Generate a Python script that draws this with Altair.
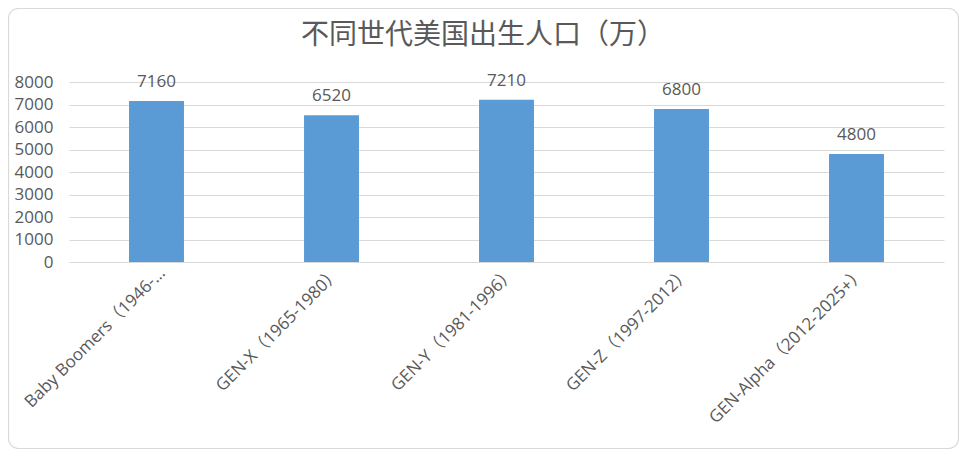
import altair as alt
import pandas as pd

TITLE = "不同世代美国出生人口（万）"
categories = [
    "Baby Boomers（1946-…",
    "GEN-X（1965-1980）",
    "GEN-Y（1981-1996）",
    "GEN-Z（1997-2012）",
    "GEN-Alpha（2012-2025+）",
]
values = [7160, 6520, 7210, 6800, 4800]
y_ticks = [0, 1000, 2000, 3000, 4000, 5000, 6000, 7000, 8000]

df = pd.DataFrame({"gen": categories, "pop": values})
title_df = pd.DataFrame({"t": [TITLE]})
frame_df = pd.DataFrame({"k": [0]})

TXT = "#595959"
FONT = "Open Sans, Noto Sans CJK SC, sans-serif"

x_enc = alt.X(
    "gen:N",
    sort=categories,
    title=None,
    scale=alt.Scale(paddingInner=0.686, paddingOuter=0.343),
    axis=alt.Axis(
        labelAngle=-45,
        labelAlign="right",
        labelBaseline="middle",
        labelFontSize=17,
        labelColor=TXT,
        labelFont=FONT,
        labelPadding=8,
        labelOffset=6,
        labelLimit=400,
        labelOverlap=False,
        ticks=False,
        tickSize=0,
        domain=False,
        grid=False,
    ),
)
y_enc = alt.Y(
    "pop:Q",
    title=None,
    scale=alt.Scale(domain=[0, 8000], nice=False),
    axis=alt.Axis(
        values=y_ticks,
        tickCount=9,
        format="d",
        labelFontSize=17,
        labelColor=TXT,
        labelFont=FONT,
        labelPadding=16,
        labelOverlap=False,
        labelFlush=False,
        ticks=False,
        tickSize=0,
        domain=False,
        grid=True,
        gridColor="#d9d9d9",
        gridWidth=1,
    ),
)

bars = alt.Chart(df).mark_bar(color="#5b9bd5").encode(x=x_enc, y=y_enc)

labels = alt.Chart(df).mark_text(
    baseline="alphabetic", dy=-14, fontSize=17, color=TXT, font=FONT
).encode(x=x_enc, y=y_enc, text="pop:Q")

title = alt.Chart(title_df).mark_text(
    fontSize=28, color=TXT, font="Noto Sans CJK SC", baseline="middle", align="center"
).encode(x=alt.value(414), y=alt.value(-46), text="t:N")

frame = alt.Chart(frame_df).mark_rect(
    fillOpacity=0, stroke="#d9d9d9", strokeWidth=1.2, cornerRadius=10
).encode(
    x=alt.value(-60.5), x2=alt.value(889.5), y=alt.value(-73.5), y2=alt.value(366.5)
)

chart = (
    alt.layer(bars, labels, title, frame)
    .properties(
        width=875,
        height=180,
        autosize=alt.AutoSizeParams(type="none"),
        padding={"left": 61, "top": 74, "right": 15, "bottom": 187},
        background="white",
    )
    .configure_view(stroke=None)
)

chart.save("out.html", embed_options={"renderer": "svg", "actions": False})
